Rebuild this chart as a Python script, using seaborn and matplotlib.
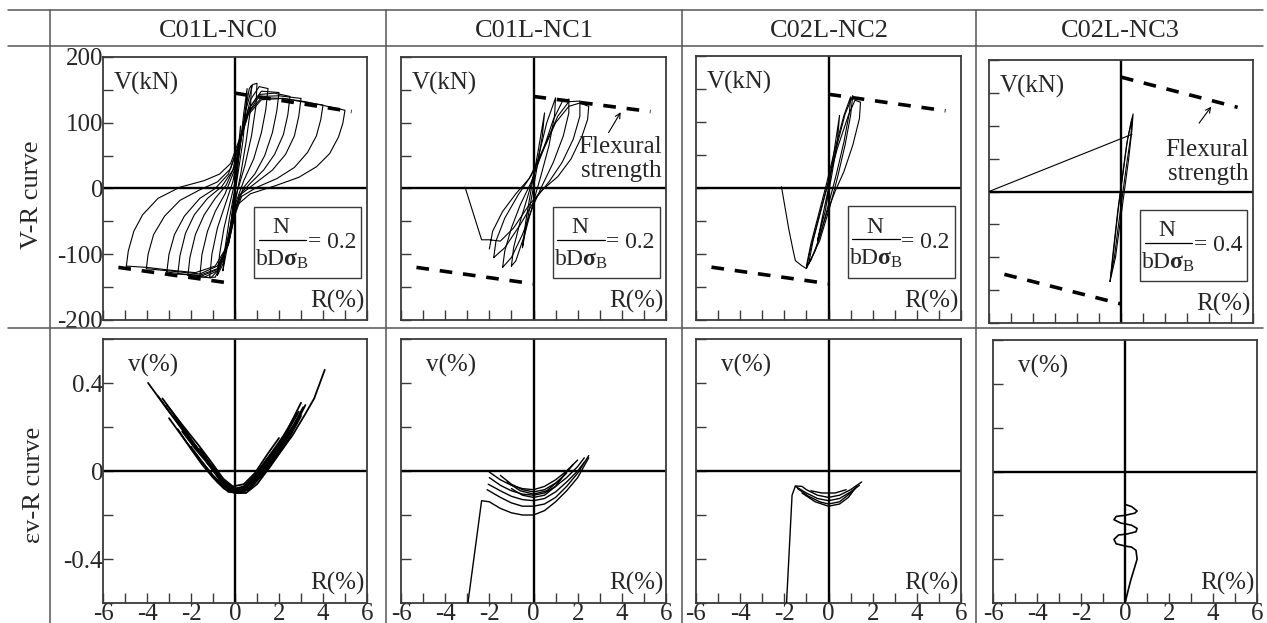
import matplotlib.pyplot as plt
import seaborn as sns
import pandas as pd
from matplotlib.lines import Line2D
from matplotlib.patches import Rectangle
from matplotlib.ticker import MultipleLocator, FuncFormatter, NullFormatter

sns.set_style("white")
plt.rcParams["font.family"] = ["Liberation Serif", "DejaVu Serif"]
plt.rcParams["mathtext.fontset"] = "custom"
plt.rcParams["mathtext.rm"] = "Liberation Serif"
plt.rcParams["mathtext.it"] = "Liberation Serif:italic"
plt.rcParams["mathtext.bf"] = "Liberation Serif:bold"
plt.rcParams["axes.unicode_minus"] = False

# ---- labels ----
specimens = ["C01L-NC0", "C01L-NC1", "C02L-NC2", "C02L-NC3"]
row_labels = ["V-R curve", "\u03b5v-R curve"]
axial_ratio = ["0.2", "0.2", "0.2", "0.4"]
has_flex_note = [False, True, False, True]

# ---- flexural strength lines (R %, V kN): positive side, negative side ----
flex_pos = [([0, 5.3], [145, 117]), ([0, 5.3], [140, 117]),
            ([0, 5.3], [142, 117]), ([0, 5.3], [174, 128])]
flex_neg = [([-5.3, 0], [-120, -145]), ([-5.3, 0], [-120, -145]),
            ([-5.3, 0], [-120, -145]), ([-5.3, 0], [-126, -171])]

# ---- V-R hysteresis loops (R %, V kN) ----
nc0_loops = [
    [(-0.25, -75), (-0.12, -35), (0, 0), (0.12, 50), (0.25, 95), (0.2, 60), (0.05, 10), (-0.1, -35), (-0.25, -75)],
    [(-0.55, -125), (-0.45, -90), (-0.25, -45), (0, 0), (0.2, 55), (0.4, 115), (0.55, 152), (0.5, 120),
     (0.35, 70), (0.1, 15), (-0.1, -30), (-0.3, -80), (-0.55, -125)],
    [(-0.8, -132), (-0.7, -100), (-0.5, -60), (-0.25, -25), (0, 10), (0.2, 55), (0.45, 115), (0.65, 152),
     (0.75, 157), (0.7, 120), (0.5, 70), (0.25, 20), (0, -20), (-0.25, -70), (-0.55, -115), (-0.8, -132)],
    [(-1.15, -135), (-1.05, -100), (-0.8, -60), (-0.45, -25), (-0.1, 10), (0.2, 60), (0.5, 120), (0.8, 158),
     (1.0, 160), (0.95, 125), (0.75, 80), (0.45, 35), (0.1, -5), (-0.2, -55), (-0.55, -110), (-0.9, -135), (-1.15, -135)],
    [(-1.6, -134), (-1.5, -100), (-1.25, -65), (-0.9, -35), (-0.45, -8), (0, 30), (0.3, 80), (0.7, 135),
     (1.1, 155), (1.5, 152), (1.4, 120), (1.2, 85), (0.85, 45), (0.4, 12), (0, -25), (-0.3, -75),
     (-0.7, -122), (-1.1, -136), (-1.6, -134)],
    [(-2.14, -132), (-2.05, -105), (-1.8, -70), (-1.4, -40), (-0.9, -15), (-0.4, 5), (0, 35), (0.3, 80),
     (0.7, 125), (1.2, 148), (2.0, 146), (1.9, 118), (1.7, 85), (1.35, 50), (0.9, 22), (0.4, 2), (0, -30),
     (-0.3, -80), (-0.8, -125), (-1.4, -135), (-2.14, -132)],
    [(-2.6, -130), (-2.5, -102), (-2.25, -68), (-1.85, -40), (-1.25, -15), (-0.6, 3), (-0.1, 28), (0.2, 70),
     (0.6, 120), (1.1, 143), (1.8, 145), (2.5, 140), (2.4, 112), (2.2, 82), (1.8, 52), (1.3, 28), (0.7, 8),
     (0.2, -10), (0, -35), (-0.3, -85), (-0.8, -123), (-1.5, -133), (-2.6, -130)],
    [(-3.1, -127), (-3.0, -100), (-2.75, -70), (-2.3, -42), (-1.6, -15), (-0.9, 0), (-0.3, 22), (0.1, 60),
     (0.5, 110), (1.1, 140), (2.0, 141), (3.0, 137), (2.9, 110), (2.7, 80), (2.3, 52), (1.7, 28), (1.0, 10),
     (0.3, -8), (0, -35), (-0.3, -85), (-0.8, -122), (-1.6, -132), (-2.4, -130), (-3.1, -127)],
    [(-4.03, -122), (-3.95, -100), (-3.7, -70), (-3.2, -42), (-2.5, -18), (-1.6, -2), (-0.8, 10), (-0.2, 30),
     (0.2, 70), (0.6, 112), (1.2, 135), (2.2, 137), (3.2, 131), (4.0, 127), (3.9, 105), (3.7, 80), (3.3, 55),
     (2.7, 32), (1.9, 15), (1.0, 2), (0.3, -12), (0, -40), (-0.3, -85), (-0.8, -118), (-1.6, -130),
     (-2.8, -126), (-4.03, -122)],
    [(-4.94, -118), (-4.85, -95), (-4.6, -65), (-4.2, -40), (-3.5, -15), (-2.5, 2), (-1.4, 12), (-0.7, 22),
     (-0.2, 38), (0.2, 75), (0.6, 115), (1.2, 138), (2.2, 137), (3.2, 132), (4.2, 125), (5.0, 119),
     (4.9, 99), (4.7, 78), (4.3, 53), (3.7, 33), (2.9, 17), (1.9, 5), (0.7, -8), (0.1, -25), (-0.1, -53),
     (-0.4, -90), (-0.9, -118), (-1.8, -128), (-3.0, -124), (-4.0, -120), (-4.94, -118)],
]

nc1_loops = [
    [(-0.5, -90), (-0.35, -50), (-0.1, 0), (0.2, 55), (0.5, 115), (0.4, 80), (0.15, 30), (-0.15, -25), (-0.5, -90)],
    [(-1.0, -118), (-0.9, -90), (-0.6, -50), (-0.2, -5), (0.2, 45), (0.6, 100), (1.0, 138), (0.95, 110),
     (0.7, 65), (0.3, 15), (0, -20), (-0.4, -70), (-0.8, -110), (-1.0, -118)],
    [(-1.4, -120), (-1.3, -95), (-1.0, -60), (-0.6, -25), (-0.1, 10), (0.4, 55), (0.9, 105), (1.3, 132),
     (1.6, 136), (1.6, 115), (1.35, 80), (0.9, 40), (0.4, 5), (0, -25), (-0.5, -70), (-1.0, -105), (-1.4, -120)],
    [(-1.8, -105), (-1.7, -80), (-1.3, -45), (-0.7, -10), (-0.1, 20), (0.5, 65), (1.1, 110), (1.6, 132),
     (2.1, 133), (2.1, 110), (1.8, 75), (1.3, 40), (0.7, 10), (0.1, -15), (-0.6, -55), (-1.3, -90), (-1.8, -105)],
    [(-2.0, -92), (-1.85, -65), (-1.4, -35), (-0.8, -8), (-0.2, 15), (0.4, 55), (1.0, 100), (1.6, 125),
     (2.1, 130), (2.5, 125), (2.45, 105), (2.2, 80), (1.7, 45), (1.1, 18), (0.4, -2), (-0.2, -25),
     (-0.9, -60), (-1.5, -80), (-2.0, -78), (-2.35, -78), (-3.1, 2)],
]

nc2_loops = [
    [(-0.5, -80), (-0.25, -40), (0, 0), (0.25, 55), (0.5, 110), (0.4, 70), (0.15, 20), (-0.15, -35), (-0.5, -80)],
    [(-1.0, -118), (-0.8, -85), (-0.45, -40), (-0.1, 5), (0.3, 60), (0.7, 110), (1.0, 138), (0.95, 115),
     (0.7, 70), (0.35, 20), (0, -25), (-0.4, -75), (-0.8, -110), (-1.0, -118)],
    [(-0.9, -115), (-0.7, -80), (-0.35, -35), (0, 10), (0.35, 60), (0.75, 112), (1.1, 140), (1.0, 110),
     (0.75, 65), (0.4, 15), (0.05, -30), (-0.4, -80), (-0.9, -115)],
    [(-1.0, -122), (-0.8, -90), (-0.4, -40), (0, 10), (0.4, 60), (0.9, 110), (1.2, 133), (1.45, 130),
     (1.4, 105), (1.1, 65), (0.7, 25), (0.3, -5), (-0.1, -40), (-0.6, -95), (-1.0, -122),
     (-1.2, -118), (-1.5, -110), (-1.6, -95), (-1.8, -62), (-2.13, 2)],
]

nc3_loops = [
    [(-0.5, -137), (-0.35, -90), (-0.15, -30), (0.05, 20), (0.25, 70), (0.45, 105), (0.55, 118), (0.5, 95),
     (0.35, 50), (0.15, 0), (-0.05, -50), (-0.25, -100), (-0.5, -137)],
    [(-0.45, -125), (-0.3, -80), (-0.1, -20), (0.1, 30), (0.3, 80), (0.5, 110), (0.45, 85), (0.25, 40),
     (0.05, -10), (-0.15, -60), (-0.3, -100), (-0.45, -125)],
    [(0.5, 87), (-6.0, 0)],
]

# ---- volumetric strain curves (R %, v %) ----
nc0_vol = [
    [(-3.95, 0.40), (-3.0, 0.27), (-2.0, 0.14), (-1.2, 0.04), (-0.7, -0.03), (-0.3, -0.08), (0, -0.095),
     (0.4, -0.095), (0.8, -0.06), (1.4, 0.0), (2.0, 0.08), (2.6, 0.16), (3.2, 0.26), (3.6, 0.33), (4.08, 0.46)],
    [(-3.1, 0.30), (-2.4, 0.21), (-1.6, 0.11), (-1.0, 0.03), (-0.5, -0.04), (-0.1, -0.08), (0.4, -0.08),
     (0.9, -0.03), (1.5, 0.05), (2.2, 0.15), (3.0, 0.31)],
    [(-2.8, 0.25), (-2.0, 0.14), (-1.3, 0.05), (-0.7, -0.03), (-0.2, -0.085), (0.3, -0.09), (0.8, -0.05),
     (1.3, 0.01), (2.0, 0.11), (2.9, 0.27)],
    [(-2.6, 0.19), (-2.0, 0.10), (-1.5, 0.03), (-1.0, -0.03), (-0.5, -0.08), (0, -0.10), (0.5, -0.10),
     (1.0, -0.06), (1.6, 0.02), (2.3, 0.12), (3.0, 0.25)],
    [(-2.2, 0.17), (-1.6, 0.09), (-1.0, 0.01), (-0.5, -0.05), (0, -0.08), (0.4, -0.07), (0.9, -0.02),
     (1.5, 0.06), (2.2, 0.16), (2.8, 0.26)],
    [(-2.0, 0.11), (-1.5, 0.04), (-1.0, -0.02), (-0.5, -0.07), (0, -0.095), (0.6, -0.085), (1.1, -0.03),
     (1.7, 0.05), (2.5, 0.17)],
    [(-1.6, 0.10), (-1.1, 0.03), (-0.6, -0.03), (-0.1, -0.07), (0.4, -0.06), (0.9, -0.01), (1.5, 0.08), (2.0, 0.15)],
    [(-1.3, 0.04), (-0.8, -0.02), (-0.3, -0.07), (0.2, -0.085), (0.7, -0.05), (1.2, 0.02), (1.8, 0.10)],
    [(-3.5, 0.34), (-2.7, 0.23), (-1.9, 0.12), (-1.1, 0.02), (-0.6, -0.05), (-0.2, -0.09), (0.3, -0.1),
     (0.9, -0.05), (1.6, 0.04), (2.4, 0.16), (3.1, 0.29)],
    [(-3.3, 0.33), (-2.5, 0.22), (-1.7, 0.1), (-0.9, 0.0), (-0.4, -0.06), (0.1, -0.09), (0.6, -0.08),
     (1.2, -0.02), (1.9, 0.08), (2.7, 0.2), (3.2, 0.3)],
    [(-2.4, 0.18), (-1.8, 0.1), (-1.2, 0.03), (-0.7, -0.04), (-0.2, -0.08), (0.3, -0.085), (0.9, -0.04),
     (1.6, 0.05), (2.4, 0.17), (2.9, 0.24)],
    [(-3.0, 0.24), (-2.2, 0.13), (-1.4, 0.03), (-0.8, -0.05), (-0.3, -0.095), (0.2, -0.1), (0.7, -0.08),
     (1.3, -0.01), (2.1, 0.1), (3.0, 0.26)],
]

nc1_vol = [
    [(-2.97, -0.60), (-2.35, -0.135), (-2.0, -0.14), (-1.5, -0.17), (-1.0, -0.19), (-0.5, -0.20), (0, -0.20),
     (0.5, -0.18), (1.0, -0.14), (1.5, -0.09), (2.0, -0.03), (2.5, 0.06)],
    [(-2.0, -0.005), (-1.5, -0.04), (-1.0, -0.065), (-0.5, -0.08), (0, -0.085), (0.5, -0.07), (1.0, -0.04),
     (1.5, 0.0), (2.0, 0.05)],
    [(-2.0, -0.03), (-1.5, -0.065), (-1.0, -0.09), (-0.5, -0.105), (0, -0.11), (0.5, -0.10), (1.0, -0.07),
     (1.5, -0.03), (2.0, 0.02), (2.3, 0.06)],
    [(-2.05, -0.06), (-1.5, -0.09), (-1.0, -0.115), (-0.5, -0.13), (0, -0.135), (0.5, -0.125), (1.0, -0.095),
     (1.5, -0.05), (2.0, 0.0), (2.3, 0.04)],
    [(-2.1, -0.085), (-1.5, -0.12), (-1.0, -0.145), (-0.5, -0.16), (0, -0.16), (0.5, -0.15), (1.0, -0.12),
     (1.5, -0.07), (2.0, -0.01), (2.5, 0.07)],
    [(-1.5, -0.02), (-1.0, -0.06), (-0.5, -0.085), (0, -0.095), (0.5, -0.085), (1.0, -0.055), (1.5, -0.01)],
    [(-1.2, -0.05), (-0.6, -0.09), (0, -0.105), (0.6, -0.09), (1.2, -0.04), (1.8, 0.03)],
    [(-1.0, -0.08), (-0.5, -0.11), (0, -0.12), (0.5, -0.11), (1.0, -0.07), (1.6, 0.01)],
]

nc2_vol = [
    [(-1.9, -0.60), (-1.65, -0.11), (-1.5, -0.068), (-1.2, -0.07), (-1.0, -0.085), (-0.5, -0.11), (0, -0.12),
     (0.5, -0.11), (1.0, -0.085), (1.5, -0.05)],
    [(-1.5, -0.07), (-1.0, -0.10), (-0.5, -0.125), (0, -0.135), (0.5, -0.125), (1.0, -0.095), (1.4, -0.065)],
    [(-1.4, -0.08), (-0.9, -0.115), (-0.4, -0.14), (0, -0.15), (0.5, -0.14), (1.0, -0.10), (1.3, -0.07)],
    [(-1.2, -0.10), (-0.6, -0.14), (0, -0.16), (0.5, -0.15), (0.9, -0.12), (1.2, -0.08)],
    [(-0.8, -0.09), (-0.3, -0.10), (0.3, -0.10), (0.8, -0.085)],
]

nc3_vol = [
    [(0, -0.60), (0.25, -0.50), (0.55, -0.40), (0.5, -0.36), (0.3, -0.345), (0, -0.34), (-0.4, -0.33),
     (-0.5, -0.31), (-0.3, -0.29), (0.1, -0.285), (0.5, -0.275), (0.55, -0.26), (0.3, -0.245), (-0.2, -0.235),
     (-0.5, -0.22), (-0.4, -0.205), (0, -0.20), (0.45, -0.19), (0.55, -0.18), (0.3, -0.16), (0, -0.15)],
]

vr_data = [nc0_loops, nc1_loops, nc2_loops, nc3_loops]
vol_data = [nc0_vol, nc1_vol, nc2_vol, nc3_vol]
vol_lw = [1.3, 1.0, 1.0, 1.2]

# ---- layout (pixels) ----
W, H = 1267, 623
col_x_top = [(103, 367), (401, 666), (696, 961), (989, 1253)]
col_x_bot = [(103, 367), (401, 666), (696, 961), (993, 1257)]
row_y_top = [(57, 320), (57, 320), (56, 320), (60, 323)]
row_y_bot = [(339, 603), (339, 603), (339, 603), (340, 603)]


def fig_box(x, y):
    return [x[0] / W, 1 - y[1] / H, (x[1] - x[0]) / W, (y[1] - y[0]) / H]


def to_frame(curves, ycol):
    rows = []
    for i, c in enumerate(curves):
        for j, (r, v) in enumerate(c):
            rows.append({"R": r, ycol: v, "loop": i, "order": j})
    return pd.DataFrame(rows)


def fmt(v, _):
    if abs(v) < 1e-9:
        return "0"
    return f"{v:g}"


def style_axes(ax, show_y, show_x):
    for s in ax.spines.values():
        s.set_visible(True)
        s.set_color("#3a3a3a")
        s.set_linewidth(1.3)
    ax.axhline(0, color="black", lw=1.7, zorder=1)
    ax.axvline(0, color="black", lw=1.7, zorder=1)
    ax.set_xlim(-6, 6)
    ax.set_xlabel("")
    ax.set_ylabel("")
    ax.tick_params(which="both", direction="in", length=7, width=1.0, color="#3a3a3a",
                   top=False, right=False, left=True, bottom=True, labelsize=18, pad=0,
                   labelleft=show_y, labelbottom=show_x)
    ax.yaxis.set_major_formatter(FuncFormatter(fmt))
    ax.xaxis.set_major_formatter(FuncFormatter(fmt))
    ax.yaxis.set_minor_formatter(NullFormatter())
    ax.xaxis.set_minor_formatter(NullFormatter())


def ratio_box(ax, value):
    # boxed N / (b D sigma_B) = value, laid out in axes fractions
    ax.add_patch(Rectangle((0.572, 0.16), 0.405, 0.27, transform=ax.transAxes, fc="white",
                           ec="#3a3a3a", lw=1.0, zorder=5))
    ax.text(0.675, 0.352, "N", transform=ax.transAxes, ha="center", va="center", fontsize=17, zorder=6)
    ax.add_line(Line2D([0.59, 0.77], [0.305, 0.305], transform=ax.transAxes, color="black",
                       lw=0.9, zorder=6))
    ax.text(0.68, 0.232, r"bD$\mathbf{\sigma}_\mathrm{B}$", transform=ax.transAxes, ha="center",
            va="center", fontsize=17, zorder=6)
    ax.text(0.775, 0.295, f"= {value}", transform=ax.transAxes, ha="left", va="center",
            fontsize=17, zorder=6)


fig = plt.figure(figsize=(W / 100, H / 100), dpi=100)

for k in range(4):
    # ---- V-R curve ----
    ax = fig.add_axes(fig_box(col_x_top[k], row_y_top[k]))
    df = to_frame(vr_data[k], "V")
    sns.lineplot(data=df, x="R", y="V", units="loop", estimator=None, sort=False,
                 color="black", lw=0.8, ax=ax, zorder=3)
    for xs, ys in (flex_pos[k], flex_neg[k]):
        ax.plot(xs, ys, color="black", lw=2.6, dashes=(3.5, 3.0), zorder=4)
    ax.set_ylim(-200, 200)
    ax.xaxis.set_major_locator(MultipleLocator(1))
    ax.yaxis.set_major_locator(MultipleLocator(100))
    ax.yaxis.set_minor_locator(MultipleLocator(50))
    style_axes(ax, show_y=(k == 0), show_x=False)
    ax.text(0.04, 0.9, "V(kN)", transform=ax.transAxes, ha="left", va="center", fontsize=18)
    ax.text(0.99, 0.07, "R(%)", transform=ax.transAxes, ha="right", va="center", fontsize=18)
    ratio_box(ax, axial_ratio[k])
    if has_flex_note[k]:
        ax.text(5.8, 45, "Flexural\nstrength", ha="right", va="center", fontsize=18,
                linespacing=1.1, zorder=5)
        tip = (3.95, 116) if k == 1 else (4.1, 129)
        tail = (3.4, 85) if k == 1 else (3.55, 104)
        ax.annotate("", xy=tip, xytext=tail,
                    arrowprops=dict(arrowstyle="->", lw=0.8, color="black",
                                    shrinkA=0, shrinkB=0, mutation_scale=9))

    # ---- volumetric strain curve ----
    ax = fig.add_axes(fig_box(col_x_bot[k], row_y_bot[k]))
    df = to_frame(vol_data[k], "v")
    sns.lineplot(data=df, x="R", y="v", units="loop", estimator=None, sort=False,
                 color="black", lw=vol_lw[k], ax=ax, zorder=3)
    ax.set_ylim(-0.6, 0.6)
    ax.xaxis.set_major_locator(MultipleLocator(2))
    ax.xaxis.set_minor_locator(MultipleLocator(1))
    ax.yaxis.set_major_locator(MultipleLocator(0.4))
    ax.yaxis.set_minor_locator(MultipleLocator(0.2))
    style_axes(ax, show_y=(k == 0), show_x=True)
    ax.text(0.095, 0.9, "v(%)", transform=ax.transAxes, ha="left", va="center", fontsize=18)
    ax.text(0.99, 0.075, "R(%)", transform=ax.transAxes, ha="right", va="center", fontsize=18)

# ---- table grid ----
grid_color = "#555555"
h_lines = [(8, 1263, 10), (8, 1263, 46), (8, 1263, 328)]
v_lines = [(50, 10, 623), (386, 10, 623), (682, 10, 623), (976, 10, 623)]
for x0, x1, y in h_lines:
    fig.add_artist(Line2D([x0 / W, x1 / W], [1 - y / H, 1 - y / H], transform=fig.transFigure,
                          color=grid_color, lw=1.1))
for x, y0, y1 in v_lines:
    fig.add_artist(Line2D([x / W, x / W], [1 - y0 / H, 1 - y1 / H], transform=fig.transFigure,
                          color=grid_color, lw=1.1))

header_x = [218, 534, 829, 1120]
for name, x in zip(specimens, header_x):
    fig.text(x / W, 1 - 31 / H, name, ha="center", va="center", fontsize=19)

fig.text(32 / W, 1 - 195 / H, row_labels[0], rotation=90, ha="center", va="center", fontsize=19)
fig.text(34 / W, 1 - 485 / H, row_labels[1], rotation=90, ha="center", va="center", fontsize=19)

fig.savefig("out.png", dpi=100)
